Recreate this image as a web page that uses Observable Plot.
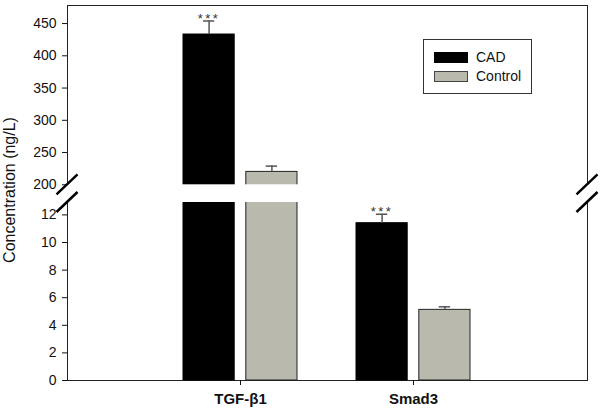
<!DOCTYPE html>
<html>
<head>
<meta charset="utf-8">
<script src="https://cdn.jsdelivr.net/npm/d3@7"></script>
<script src="https://cdn.jsdelivr.net/npm/@observablehq/plot@0.6"></script>
<style>
  html, body { margin: 0; padding: 0; background: #fff; }
  #wrap { position: relative; width: 600px; height: 411px; font-family: "Liberation Sans", Arial, sans-serif; }
  #legend { position: absolute; left: 423px; top: 39px; width: 109px; height: 55px; border: 1px solid #333; background: #fff; box-sizing: border-box; }
  .sw { position: absolute; left: 10px; width: 34px; height: 11px; box-sizing: border-box; }
  .lt { position: absolute; left: 52px; font-size: 14px; color: #111; line-height: 16px; }
</style>
</head>
<body>
<div id="wrap"></div>
<script>
// ---- data ----
const groups = ["TGF-β1", "Smad3"];
const seriesNames = ["CAD", "Control"];
const cadMean = [433, 11.4];
const cadErr = [21, 0.65];
const controlMean = [220, 5.12];
const controlErr = [9, 0.22];
const cadSig = ["***", "***"];
const yTickValues = [0, 2, 4, 6, 8, 10, 12, 200, 250, 300, 350, 400, 450];
const yLabel = "Concentration (ng/L)";
// broken axis: lower segment 0..breakLow, upper segment breakHigh..yMax
const breakLow = 12.9, breakHigh = 200, yMax = 478;

const colors = {CAD: "#000000", Control: "#b9b9ad"};

const cad = groups.map((g, i) => ({group: g, series: "CAD", mean: cadMean[i], err: cadErr[i], sig: cadSig[i]}));
const control = groups.map((g, i) => ({group: g, series: "Control", mean: controlMean[i], err: controlErr[i]}));

// ---- layout ----
const W = 600, H = 411, ML = 67, MR = 13, MT = 5, MB = 31;
const padInner = 0.339, padOuter = 0.669;
const step = (W - ML - MR) / (groups.length - padInner + 2 * padOuter);
const groupBW = step * (1 - padInner);
const barW = 51.8;
const gap = groupBW - 2 * barW;
const half = gap / 2 + barW / 2;
const capHalf = 6;

const chart = Plot.plot({
  width: W, height: H,
  marginLeft: ML, marginRight: MR, marginTop: MT, marginBottom: MB,
  style: {fontFamily: "'Liberation Sans', Arial, sans-serif", fontSize: "14px", color: "#111", background: "#fff"},
  x: {domain: groups, paddingInner: padInner, paddingOuter: padOuter, axis: null},
  y: {type: "linear", domain: [0, breakLow, breakHigh, yMax], range: [H - MB, 202, 184.3, MT], axis: null},
  marks: [
    Plot.frame({stroke: "#222", strokeWidth: 1}),
    Plot.barY(cad, {x: "group", y1: 0, y2: "mean", fill: colors.CAD, stroke: "#000", strokeWidth: 1, insetRight: groupBW - barW}),
    Plot.barY(control, {x: "group", y1: 0, y2: "mean", fill: colors.Control, stroke: "#222", strokeWidth: 1, insetLeft: groupBW - barW}),
    // break gap
    Plot.rect([{lo: breakLow, hi: breakHigh}], {y1: "lo", y2: "hi", fill: "#fff", insetLeft: -4, insetRight: -4}),
    // error bars
    Plot.ruleX(cad, {x: "group", y1: "mean", y2: d => d.mean + d.err, stroke: "#555", strokeWidth: 1.5, dx: -half}),
    Plot.tickY(cad, {x: "group", y: d => d.mean + d.err, stroke: "#555", strokeWidth: 1.5, insetLeft: barW / 2 - capHalf, insetRight: groupBW - barW / 2 - capHalf}),
    Plot.ruleX(control, {x: "group", y1: "mean", y2: d => d.mean + d.err, stroke: "#555", strokeWidth: 1.5, dx: half}),
    Plot.tickY(control, {x: "group", y: d => d.mean + d.err, stroke: "#555", strokeWidth: 1.5, insetLeft: groupBW - barW / 2 - capHalf, insetRight: barW / 2 - capHalf}),
    Plot.text(cad, {x: "group", y: d => d.mean + d.err, text: "sig", dx: -half, dy: -2.5, lineAnchor: "middle", fontSize: 13, fill: "#333"}),
    // axes
    Plot.axisY(yTickValues, {tickSize: 5, tickPadding: 6, fontSize: 14, label: null, tickFormat: d => String(d)}),
    Plot.axisX(groups, {tickSize: 5, tickPadding: 8, fontSize: 15, fontWeight: "bold", label: null}),
    Plot.text([yLabel], {text: d => d, frameAnchor: "left", textAnchor: "middle", lineAnchor: "middle", rotate: -90, dx: -58, dy: -3, fontSize: 16, fill: "#111"})
  ]
});

document.getElementById("wrap").appendChild(chart);

// break marks on both frame sides, placed with the y scale
const ys = chart.scale("y");
const svg = d3.select(chart);
const xEdges = [ML, W - MR];
for (const xe of xEdges) {
  for (const v of [breakHigh, breakLow]) {
    const yv = ys.apply(v);
    svg.append("line")
      .attr("x1", xe - 10.5).attr("y1", yv + 10)
      .attr("x2", xe + 10.5).attr("y2", yv - 10)
      .attr("stroke", "#000").attr("stroke-width", 2.5);
  }
}
svg.selectAll("text").filter(function() { return this.textContent === "***"; })
  .attr("letter-spacing", 2.5);

// legend inside the plot
const legend = d3.select("#wrap").append("div").attr("id", "legend");
seriesNames.forEach((s, i) => {
  legend.append("div").attr("class", "sw")
    .style("top", (12 + i * 19) + "px")
    .style("background", colors[s])
    .style("border", "1px solid " + (s === "CAD" ? "#000" : "#444"));
  legend.append("div").attr("class", "lt")
    .style("top", (9 + i * 19) + "px")
    .text(s);
});
</script>
</body>
</html>
